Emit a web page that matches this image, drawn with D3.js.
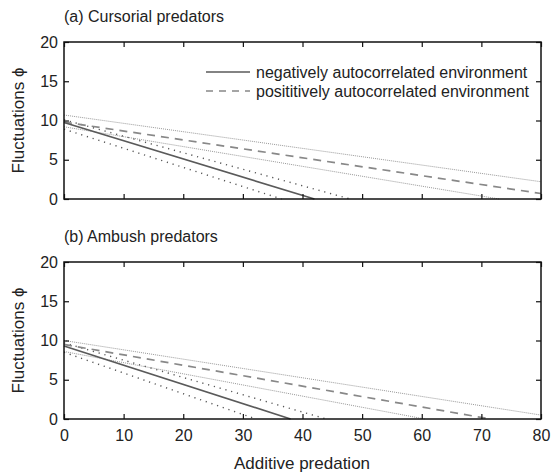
<!DOCTYPE html>
<html>
<head>
<meta charset="utf-8">
<script src="https://cdn.jsdelivr.net/npm/d3@7"></script>
<style>
  body { margin: 0; background: #fff; }
  svg { font-family: "Liberation Sans", Arial, sans-serif; }
</style>
</head>
<body>
<svg id="chart" width="552" height="474"></svg>
<script>
// x ticks and y ticks
const xTicks = [0, 10, 20, 30, 40, 50, 60, 70, 80];
const yTicks = [0, 5, 10, 15, 20];

// panel (a) cursorial predators: [additive predation, fluctuations]
const aNeg      = [[0, 9.75], [42, 0]];
const aNegLow   = [[0, 8.9], [36.5, 0]];
const aNegHigh  = [[0, 10.1], [48, 0]];
const aPos      = [[0, 9.8], [80, 0.7]];
const aPosLow   = [[0, 9.2], [73, 0]];
const aPosHigh  = [[0, 10.7], [80, 2.2]];

// panel (b) ambush predators
const bNeg      = [[0, 9.3], [38, 0]];
const bNegLow   = [[0, 8.5], [32.2, 0]];
const bNegHigh  = [[0, 9.7], [44, 0]];
const bPos      = [[0, 9.5], [71.5, 0]];
const bPosLow   = [[0, 8.6], [60.5, 0]];
const bPosHigh  = [[0, 10.0], [80, 0.5]];

const legendLabels = ["negatively autocorrelated environment", "posititively autocorrelated environment"];

const svg = d3.select('#chart');
const left = 64, right = 541;

const x = d3.scaleLinear().domain([0, 80]).range([left, right]);

// line styles
const styles = {
  neg:     {stroke: '#5a5a5a', width: 1.7, dash: null},
  negBand: {stroke: '#555', width: 1.4, dash: '1.2,4.8'},
  pos:     {stroke: '#888', width: 1.7, dash: '8,6'},
  posBand: {stroke: '#999', width: 1.0, dash: '1,1'}
};

function panel(top, bottom, title, series, legend){
  const y = d3.scaleLinear().domain([0, 20]).range([bottom, top]);
  const g = svg.append('g');

  g.append('text')
    .attr('x', 64).attr('y', top - 20)
    .attr('font-size', 16).attr('fill', '#222')
    .text(title);

  const line = d3.line().x(d => x(d[0])).y(d => y(d[1]));

  g.append('g').selectAll('path')
    .data(series)
    .join('path')
      .attr('d', d => line(d.pts))
      .attr('fill', 'none')
      .attr('stroke', d => styles[d.style].stroke)
      .attr('stroke-width', d => styles[d.style].width)
      .attr('stroke-dasharray', d => styles[d.style].dash);

  // axes with inward ticks on all sides
  const tl = 5;
  g.append('g').attr('transform', `translate(0,${bottom})`)
    .call(d3.axisBottom(x).tickValues(xTicks).tickSize(-tl).tickPadding(11)
      .tickFormat(d => bottom > 300 ? d : ''))
    .call(ax => ax.select('.domain').remove());
  g.append('g').attr('transform', `translate(0,${top})`)
    .call(d3.axisTop(x).tickValues(xTicks).tickSize(-tl).tickFormat(''))
    .call(ax => ax.select('.domain').remove());
  g.append('g').attr('transform', `translate(${left},0)`)
    .call(d3.axisLeft(y).tickValues(yTicks).tickSize(-tl).tickPadding(6))
    .call(ax => ax.select('.domain').remove());
  g.append('g').attr('transform', `translate(${right},0)`)
    .call(d3.axisRight(y).tickValues(yTicks).tickSize(-tl).tickFormat(''))
    .call(ax => ax.select('.domain').remove());

  g.selectAll('.tick text')
    .attr('font-size', 16).attr('fill', '#222')
    .attr('font-family', '"Liberation Sans", Arial, sans-serif');
  g.selectAll('.tick line').attr('stroke', '#111').attr('stroke-width', 1.2);

  g.append('rect')
    .attr('x', left).attr('y', top)
    .attr('width', right - left).attr('height', bottom - top)
    .attr('fill', 'none').attr('stroke', '#111').attr('stroke-width', 1.5);

  g.append('text')
    .attr('transform', `translate(24,${(top + bottom) / 2}) rotate(-90)`)
    .attr('text-anchor', 'middle')
    .attr('font-size', 17).attr('fill', '#222')
    .text('Fluctuations \u03D5');

  if (legend){
    const lg = g.append('g');
    legendLabels.forEach((lab, i) => {
      const ly = top + 30 + i * 19;
      const st = i === 0 ? styles.neg : styles.pos;
      lg.append('line')
        .attr('x1', 206).attr('x2', 250).attr('y1', ly).attr('y2', ly)
        .attr('stroke', st.stroke).attr('stroke-width', st.width)
        .attr('stroke-dasharray', i === 0 ? null : '7,6');
      lg.append('text')
        .attr('x', 256).attr('y', ly + 6)
        .attr('font-size', 16).attr('fill', '#222')
        .text(lab);
    });
  }
}

panel(42, 199, '(a) Cursorial predators', [
  {pts: aPosHigh, style: 'posBand'},
  {pts: aPosLow, style: 'posBand'},
  {pts: aNegHigh, style: 'negBand'},
  {pts: aNegLow, style: 'negBand'},
  {pts: aPos, style: 'pos'},
  {pts: aNeg, style: 'neg'}
], true);

panel(262, 419, '(b) Ambush predators', [
  {pts: bPosHigh, style: 'posBand'},
  {pts: bPosLow, style: 'posBand'},
  {pts: bNegHigh, style: 'negBand'},
  {pts: bNegLow, style: 'negBand'},
  {pts: bPos, style: 'pos'},
  {pts: bNeg, style: 'neg'}
], false);

svg.append('text')
  .attr('x', 302).attr('y', 469)
  .attr('text-anchor', 'middle')
  .attr('font-size', 17).attr('fill', '#222')
  .text('Additive predation');
</script>
</body>
</html>
